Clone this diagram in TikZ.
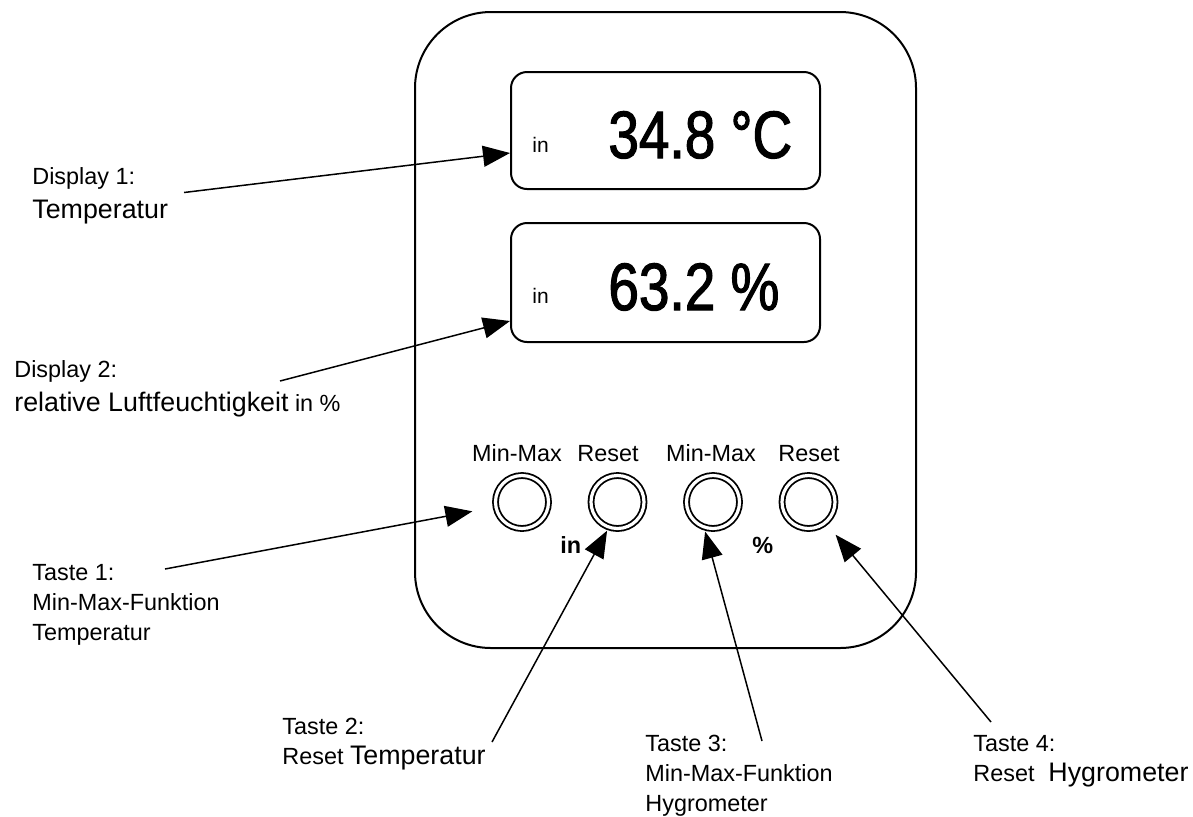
\documentclass[tikz,border=0pt]{standalone}
\usepackage{fontspec}
\setmainfont{Liberation Sans}
\newfontfamily\lcdfont[FakeStretch=0.82, FakeBold=1.6]{Liberation Sans}
\usetikzlibrary{arrows.meta, calc}
\newcommand\txtsmall{\fontsize{11.7}{15}\selectfont}
\newcommand\txtlarge{\fontsize{13.4}{15}\selectfont}
\newcommand\txtdisp{\fontsize{33.5}{36}\selectfont\lcdfont}

\tikzset{
  housing/.style={line width=1pt, rounded corners=38pt},
  lcd/.style={draw, line width=1pt, rounded corners=8pt, minimum width=154.5pt, inner sep=0pt},
  knob/.style={circle, draw, line width=0.9pt, double, double distance=1.6pt, minimum size=26.5pt, inner sep=0pt, outer sep=2pt},
  callout/.style={anchor=north west, align=left, inner sep=0pt, font=\txtsmall},
  pointer/.style={-{Triangle[length=13.5pt, width=10.5pt]}, line width=0.75pt},
}

\begin{document}
\begin{tikzpicture}[x=0.5pt, y=-0.5pt]
\useasboundingbox (0,0) rectangle (1193,816);

% housing
\draw[housing] (415,12) rectangle (916,648);

% displays
\node[lcd, minimum height=58.5pt] (disp1) at (665.5,130.5) {};
\node[lcd, minimum height=59.5pt] (disp2) at (665.5,282.5) {};
\node[anchor=base west, inner sep=0pt, font=\fontsize{10.5}{12}\selectfont] (in1) at (532,152) {in};
\node[anchor=base west, inner sep=0pt, font=\fontsize{10.5}{12}\selectfont] (in2) at (532,303) {in};
\node[anchor=base west, inner sep=0pt, font=\txtdisp] (temp) at (608,158) {34.8 °C};
\node[anchor=base west, inner sep=0pt, font=\txtdisp] (hum) at (608,310) {63.2 \%};

% buttons
\foreach \n/\x/\cx/\t in {1/522/517/Min-Max, 2/617.5/608/Reset, 3/713/711/Min-Max, 4/808.5/809/Reset} {
  \node[knob] (btn\n) at (\x,502) {};
  \node[anchor=base, inner sep=0pt, font=\txtsmall] (cap\n) at (\cx,461) {\t};
}
\node[anchor=base west, inner sep=0pt, font=\txtsmall\bfseries] (unitT) at (560,553) {in};
\node[anchor=base west, inner sep=0pt, font=\txtsmall\bfseries] (unitH) at (752,553) {\%};

% callouts
\node[callout] (lab1) at (32,167) {Display 1:\\[2pt]{\txtlarge Temperatur}};
\node[callout] (lab2) at (14,360) {Display 2:\\[2pt]{\txtlarge relative Luftfeuchtigkeit} in \%};
\node[callout] (lab3) at (32,564) {Taste 1:\\Min-Max-Funktion\\Temperatur};
\node[callout] (lab4) at (282,718) {Taste 2:\\Reset {\txtlarge Temperatur}};
\node[callout] (lab5) at (645,735) {Taste 3:\\Min-Max-Funktion\\Hygrometer};
\node[callout] (lab6) at (973,735) {Taste 4:\\Reset\ {\txtlarge\ Hygrometer}};

\coordinate (end1) at (184,192.5);
\coordinate (end2) at (280,381);
\coordinate (end3) at (165,569);
\coordinate (end4) at (492,742);
\coordinate (end5) at (762,741);
\coordinate (end6) at (991,722);

\draw[pointer] (end1) -- ($(disp1.west)+(0,22.5)$);
\draw[pointer] (end2) -- ($(disp2.west)+(0,38.5)$);
\draw[pointer, shorten >=10pt] (end3) -- (btn1);
\draw[pointer] (end4) -- (btn2.250);
\draw[pointer] (end5) -- (btn3.255);
\draw[pointer, shorten >=6pt] (end6) -- (btn4);
\end{tikzpicture}
\end{document}
